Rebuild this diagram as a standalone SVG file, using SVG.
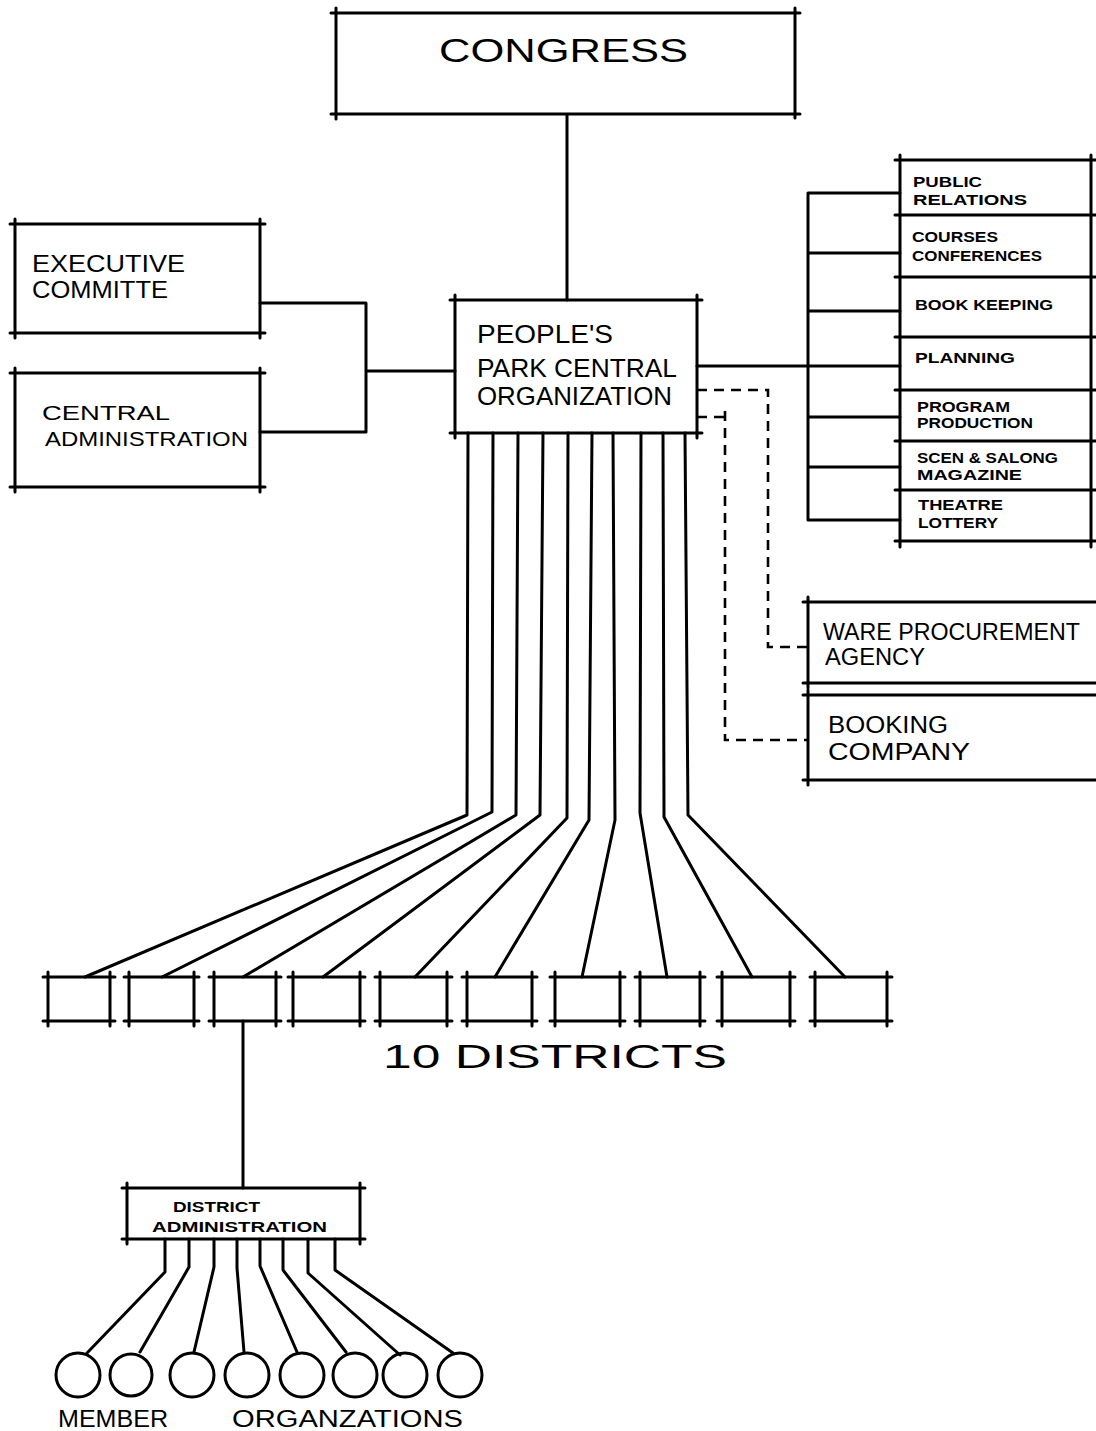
<svg xmlns="http://www.w3.org/2000/svg" width="1096" height="1431" viewBox="0 0 1096 1431">
<style>
.b{fill:none;stroke:#000;stroke-width:3;stroke-linecap:round;stroke-linejoin:round}
.c{fill:none;stroke:#000;stroke-width:3;stroke-linecap:round;stroke-linejoin:round}
.d{fill:none;stroke:#000;stroke-width:2.6;stroke-dasharray:10 7}
.t{font-family:"Liberation Sans",Arial,sans-serif;fill:#000}
.big{font-size:34px}
.m{font-size:26px}
.n{font-size:23px}
.n2{font-size:21px}
.s{font-size:15px;font-weight:bold}
.xs{font-size:14px;font-weight:bold}
</style>
<rect width="1096" height="1431" fill="#fff"/>
<g id="connectors">
<path class="c" d="M567,115 V300"/>
<path class="c" d="M260,303 H366 V432 H260 M366,371 H455"/>
<path class="c" d="M697,366 H900 M808,193 V520 M808,193 H900 M808,253 H900 M808,311 H900 M808,417 H900 M808,467 H900 M808,520 H900"/>
<path class="d" d="M697,390 H768 V647 H808"/>
<path class="d" d="M697,417 H725 M725,411 V740 H808"/>
<path class="c" d="M468,433 L467,815 L85,977"/>
<path class="c" d="M493,433 L492,812 L162,977"/>
<path class="c" d="M518,433 L516,815 L243,977"/>
<path class="c" d="M543,433 L540,815 L323,977"/>
<path class="c" d="M568,433 L567,818 L415,977"/>
<path class="c" d="M592,433 L589,820 L495,977"/>
<path class="c" d="M613,433 L615,820 L582,977"/>
<path class="c" d="M641,433 L640,813 L667,977"/>
<path class="c" d="M663,433 L664,817 L752,977"/>
<path class="c" d="M685,433 L688,815 L845,977"/>
<path class="c" d="M243,1021 V1188"/>
<path class="c" d="M165,1239 V1272 L87,1353"/>
<path class="c" d="M189,1239 V1267 L140,1352"/>
<path class="c" d="M214,1239 V1267 L194,1352"/>
<path class="c" d="M237,1239 V1268 L244,1352"/>
<path class="c" d="M260,1239 V1266 L297,1352"/>
<path class="c" d="M283,1239 V1270 L346,1352"/>
<path class="c" d="M308,1239 V1273 L400,1355"/>
<path class="c" d="M335,1239 V1270 L453,1353"/>
</g>
<g id="congress">
<path class="b" d="M331,13 H800 M795,8 V118 M800,114 H331 M336,119 V8"/>
<text class="t big" x="439" y="62" textLength="249" lengthAdjust="spacingAndGlyphs">CONGRESS</text>
</g>
<g id="central-org">
<path class="b" d="M450,300 H702 M697,295 V438 M702,433 H450 M455,438 V295"/>
<text class="t m" x="477" y="343" textLength="136" lengthAdjust="spacingAndGlyphs">PEOPLE'S</text>
<text class="t m" x="477" y="377" textLength="200" lengthAdjust="spacingAndGlyphs">PARK CENTRAL</text>
<text class="t m" x="477" y="405" textLength="195" lengthAdjust="spacingAndGlyphs">ORGANIZATION</text>
</g>
<g id="executive-committee">
<path class="b" d="M10,224 H265 M260,219 V338 M265,333 H10 M15,338 V219"/>
<text class="t n" x="32" y="272" textLength="153" lengthAdjust="spacingAndGlyphs">EXECUTIVE</text>
<text class="t n" x="32" y="298" textLength="136" lengthAdjust="spacingAndGlyphs">COMMITTE</text>
</g>
<g id="central-administration">
<path class="b" d="M10,373 H265 M260,368 V492 M265,487 H10 M15,492 V368"/>
<text class="t n2" x="42" y="420" textLength="128" lengthAdjust="spacingAndGlyphs">CENTRAL</text>
<text class="t n2" x="45" y="446" textLength="203" lengthAdjust="spacingAndGlyphs">ADMINISTRATION</text>
</g>
<g id="public-relations">
<path class="b" d="M895,160 H1096 M900,155 V215 M1091,155 V215"/>
<text class="t s" x="913" y="187" textLength="69" lengthAdjust="spacingAndGlyphs">PUBLIC</text>
<text class="t s" x="913" y="205" textLength="114" lengthAdjust="spacingAndGlyphs">RELATIONS</text>
</g>
<g id="courses-conferences">
<path class="b" d="M895,215 H1096 M900,215 V277 M1091,215 V277"/>
<text class="t s" x="912" y="242" textLength="86" lengthAdjust="spacingAndGlyphs">COURSES</text>
<text class="t s" x="912" y="261" textLength="130" lengthAdjust="spacingAndGlyphs">CONFERENCES</text>
</g>
<g id="book-keeping">
<path class="b" d="M895,277 H1096 M900,277 V337 M1091,277 V337"/>
<text class="t s" x="915" y="310" textLength="138" lengthAdjust="spacingAndGlyphs">BOOK KEEPING</text>
</g>
<g id="planning">
<path class="b" d="M895,337 H1096 M900,337 V390 M1091,337 V390"/>
<text class="t s" x="915" y="363" textLength="100" lengthAdjust="spacingAndGlyphs">PLANNING</text>
</g>
<g id="program-production">
<path class="b" d="M895,390 H1096 M900,390 V441 M1091,390 V441"/>
<text class="t s" x="917" y="412" textLength="93" lengthAdjust="spacingAndGlyphs">PROGRAM</text>
<text class="t s" x="917" y="428" textLength="116" lengthAdjust="spacingAndGlyphs">PRODUCTION</text>
</g>
<g id="scen-salong-magazine">
<path class="b" d="M895,441 H1096 M900,441 V490 M1091,441 V490"/>
<text class="t s" x="917" y="463" textLength="141" lengthAdjust="spacingAndGlyphs">SCEN &amp; SALONG</text>
<text class="t s" x="917" y="480" textLength="105" lengthAdjust="spacingAndGlyphs">MAGAZINE</text>
</g>
<g id="theatre-lottery">
<path class="b" d="M895,490 H1096 M900,490 V547 M1091,490 V547 M895,541 H1096"/>
<text class="t s" x="918" y="510" textLength="85" lengthAdjust="spacingAndGlyphs">THEATRE</text>
<text class="t s" x="918" y="528" textLength="80" lengthAdjust="spacingAndGlyphs">LOTTERY</text>
</g>
<g id="ware-procurement-agency">
<path class="b" d="M803,602 H1096 M808,597 V688 M803,683 H1096"/>
<text class="t n" x="823" y="640" textLength="257" lengthAdjust="spacingAndGlyphs">WARE PROCUREMENT</text>
<text class="t n" x="825" y="665" textLength="100" lengthAdjust="spacingAndGlyphs">AGENCY</text>
</g>
<g id="booking-company">
<path class="b" d="M803,695 H1096 M808,690 V785 M803,780 H1096"/>
<text class="t n" x="828" y="733" textLength="120" lengthAdjust="spacingAndGlyphs">BOOKING</text>
<text class="t n" x="828" y="760" textLength="142" lengthAdjust="spacingAndGlyphs">COMPANY</text>
</g>
<g id="district-1"><path class="b" d="M43,977 H115 M110,972 V1026 M115,1021 H43 M48,1026 V972"/></g>
<g id="district-2"><path class="b" d="M124,977 H199 M194,972 V1026 M199,1021 H124 M129,1026 V972"/></g>
<g id="district-3"><path class="b" d="M209,977 H281 M276,972 V1026 M281,1021 H209 M214,1026 V972"/></g>
<g id="district-4"><path class="b" d="M288,977 H365 M360,972 V1026 M365,1021 H288 M293,1026 V972"/></g>
<g id="district-5"><path class="b" d="M375,977 H452 M447,972 V1026 M452,1021 H375 M380,1026 V972"/></g>
<g id="district-6"><path class="b" d="M462,977 H537 M532,972 V1026 M537,1021 H462 M467,1026 V972"/></g>
<g id="district-7"><path class="b" d="M550,977 H625 M620,972 V1026 M625,1021 H550 M555,1026 V972"/></g>
<g id="district-8"><path class="b" d="M635,977 H705 M700,972 V1026 M705,1021 H635 M640,1026 V972"/></g>
<g id="district-9"><path class="b" d="M717,977 H795 M790,972 V1026 M795,1021 H717 M722,1026 V972"/></g>
<g id="district-10"><path class="b" d="M810,977 H892 M887,972 V1026 M892,1021 H810 M815,1026 V972"/></g>
<text class="t big" x="383" y="1068" textLength="344" lengthAdjust="spacingAndGlyphs">10 DISTRICTS</text>
<g id="district-administration">
<path class="b" d="M122,1188 H365 M360,1183 V1244 M365,1239 H122 M127,1244 V1183"/>
<text class="t xs" x="173" y="1212" textLength="87" lengthAdjust="spacingAndGlyphs">DISTRICT</text>
<text class="t xs" x="152" y="1232" textLength="175" lengthAdjust="spacingAndGlyphs">ADMINISTRATION</text>
</g>
<g id="member-1"><circle class="b" cx="78" cy="1375" r="22"/></g>
<g id="member-2"><circle class="b" cx="131" cy="1375" r="21"/></g>
<g id="member-3"><circle class="b" cx="192" cy="1375" r="22"/></g>
<g id="member-4"><circle class="b" cx="247" cy="1375" r="22"/></g>
<g id="member-5"><circle class="b" cx="302" cy="1375" r="22"/></g>
<g id="member-6"><circle class="b" cx="355" cy="1375" r="22"/></g>
<g id="member-7"><circle class="b" cx="405" cy="1375" r="22"/></g>
<g id="member-8"><circle class="b" cx="460" cy="1375" r="22"/></g>
<text class="t n" x="58" y="1427" textLength="110" lengthAdjust="spacingAndGlyphs">MEMBER</text>
<text class="t n" x="232" y="1427" textLength="231" lengthAdjust="spacingAndGlyphs">ORGANZATIONS</text>
</svg>
